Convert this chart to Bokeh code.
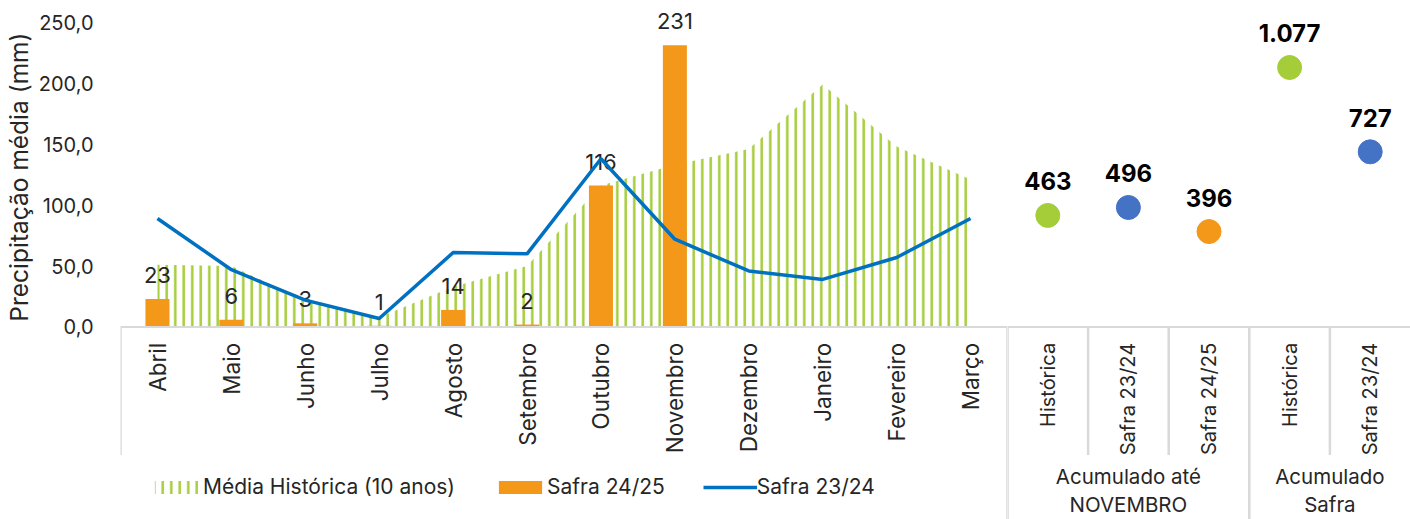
import math
from bokeh.plotting import figure
from bokeh.models import Range1d, FixedTicker, CustomJSTickFormatter, Title, Legend, LegendItem, Span
from bokeh.layouts import row
from bokeh.embed import file_html
from bokeh.resources import INLINE
from bokeh.core.properties import value

# ---------------- data ----------------
months = ["Abril", "Maio", "Junho", "Julho", "Agosto", "Setembro",
          "Outubro", "Novembro", "Dezembro", "Janeiro", "Fevereiro", "Março"]
media_historica = [51, 50, 22, 8, 33, 50, 116, 133, 146, 199, 148, 121]
safra_2324 = [89, 47, 22, 7, 61, 60, 138, 72, 46, 39, 57, 89]
safra_2425 = [23, 6, 3, 1, 14, 2, 116, 231]          # Abril .. Novembro

acc_categories = ["Histórica", "Safra 23/24", "Safra 24/25", "Histórica", "Safra 23/24"]
acc_values = [463, 496, 396, 1077, 727]
group_labels = ["Acumulado até\nNOVEMBRO", "Acumulado\nSafra"]
group_sizes = [3, 2]
y_ticks = [0, 50, 100, 150, 200, 250]

# ---------------- style ----------------
FONT = "Inter"
TXT = "#262626"
GRID = "#D9D9D9"
GREEN = "#A5CD39"
ORANGE = "#F39819"
BLUE_LINE = "#0070C0"
BLUE_DOT = "#4472C4"
acc_colors = [GREEN, BLUE_DOT, ORANGE, GREEN, BLUE_DOT]

Y_TOP = 267.8              # headroom above 250 for the data labels
Y_BOTTOM = -157.9          # room below zero for category labels / legend
ACC_SCALE = 5.06           # secondary (accumulated) scale factor
H = 519
LABEL_Y = -13
SHORT_SEP = -105

# ---------------- left (monthly) ----------------
left = figure(width=1007, height=H, x_range=Range1d(0, len(months)),
              y_range=Range1d(Y_BOTTOM, Y_TOP), output_backend="svg",
              toolbar_location=None, x_axis_location=None,
              min_border_left=120, min_border_right=0,
              min_border_top=0, min_border_bottom=0)
left.outline_line_color = None
left.grid.visible = False

xm = [i + 0.5 for i in range(len(months))]

r_area = left.varea(x=xm, y1=[0] * len(months), y2=media_historica,
                    fill_color=None, hatch_pattern="vertical_line",
                    hatch_color=GREEN, hatch_weight=2.5, hatch_scale=8.5)
r_bar = left.vbar(x=xm[:len(safra_2425)], top=safra_2425, width=0.325,
                  fill_color=ORANGE, line_color=None)
left.text(x=xm[:len(safra_2425)], y=safra_2425, text=[str(v) for v in safra_2425],
          text_align="center", text_baseline="middle", y_offset=-24,
          text_font=value(FONT), text_font_size="22px", text_color=TXT)
r_line = left.line(xm, safra_2324, line_width=3.5, line_color=BLUE_LINE)

left.add_layout(Span(location=0, dimension="width", line_color=GRID, line_width=2))
left.segment(x0=[0, len(months)], y0=[0, 0], x1=[0, len(months)], y1=[SHORT_SEP, Y_BOTTOM],
             line_color=GRID, line_width=2.5)

left.text(x=xm, y=LABEL_Y, text=months, angle=math.pi / 2,
          text_align="right", text_baseline="middle",
          text_font=value(FONT), text_font_size="22.5px", text_color=TXT)

left.yaxis.ticker = FixedTicker(ticks=y_ticks)
left.yaxis.formatter = CustomJSTickFormatter(code="return tick.toFixed(1).replace('.', ',')")
left.yaxis.axis_line_color = None
left.yaxis.major_tick_line_color = None
left.yaxis.minor_tick_line_color = None
left.yaxis.major_label_standoff = 21
left.yaxis.major_label_text_font = FONT
left.yaxis.major_label_text_font_size = "20px"
left.yaxis.major_label_text_color = TXT

left.add_layout(Title(text="Precipitação média (mm)", align="right", offset=32,
                      text_font=FONT, text_font_size="24.5px", text_font_style="normal",
                      text_color=TXT, standoff=2, vertical_align="middle"), "left")

legend = Legend(items=[LegendItem(label="Média Histórica (10 anos)", renderers=[r_area]),
                       LegendItem(label="Safra 24/25", renderers=[r_bar]),
                       LegendItem(label="Safra 23/24", renderers=[r_line])],
                orientation="horizontal", location=(29, 20),
                glyph_width=54, glyph_height=16, label_standoff=-2, spacing=38,
                padding=0, margin=0, border_line_color=None, background_fill_alpha=0,
                label_text_font=FONT, label_text_font_size="21px", label_text_color=TXT)
left.add_layout(legend)

# ---------------- right (accumulated) ----------------
right = figure(width=403, height=H, x_range=Range1d(0, len(acc_categories)),
               y_range=Range1d(Y_BOTTOM, Y_TOP), output_backend="svg",
               toolbar_location=None, x_axis_location=None, y_axis_location=None,
               min_border_left=0, min_border_right=0,
               min_border_top=0, min_border_bottom=0)
right.outline_line_color = None
right.grid.visible = False
right.extra_y_ranges = {"acc": Range1d(Y_BOTTOM * ACC_SCALE, Y_TOP * ACC_SCALE)}

xa = [j + 0.5 for j in range(len(acc_categories))]
right.scatter(xa, acc_values, size=24, color=acc_colors, y_range_name="acc")
right.text(x=xa, y=acc_values, text=[f"{v:,}".replace(",", ".") for v in acc_values],
           y_range_name="acc", y_offset=-34, text_align="center", text_baseline="middle",
           text_font=value(FONT), text_font_size="24px", text_font_style="bold",
           text_color="#000000")

right.add_layout(Span(location=0, dimension="width", line_color=GRID, line_width=2))

starts = [0]
for s in group_sizes[:-1]:
    starts.append(starts[-1] + s)
sep_x = list(range(len(acc_categories)))
sep_bottom = [Y_BOTTOM if x in starts else SHORT_SEP for x in sep_x]
right.segment(x0=sep_x, y0=[0] * len(sep_x), x1=sep_x, y1=sep_bottom,
              line_color=GRID, line_width=2.5)

right.text(x=xa, y=LABEL_Y, text=acc_categories, angle=math.pi / 2,
           text_align="right", text_baseline="middle",
           text_font=value(FONT), text_font_size="20px", text_color=TXT)

group_x = [st + sz / 2 for st, sz in zip(starts, group_sizes)]
right.text(x=group_x, y=-134, text=group_labels, text_align="center", text_baseline="middle",
           text_line_height=1.1, text_font=value(FONT), text_font_size="20.5px", text_color=TXT)

layout = row(left, right)
open("out.html", "w").write(file_html(layout, INLINE))
